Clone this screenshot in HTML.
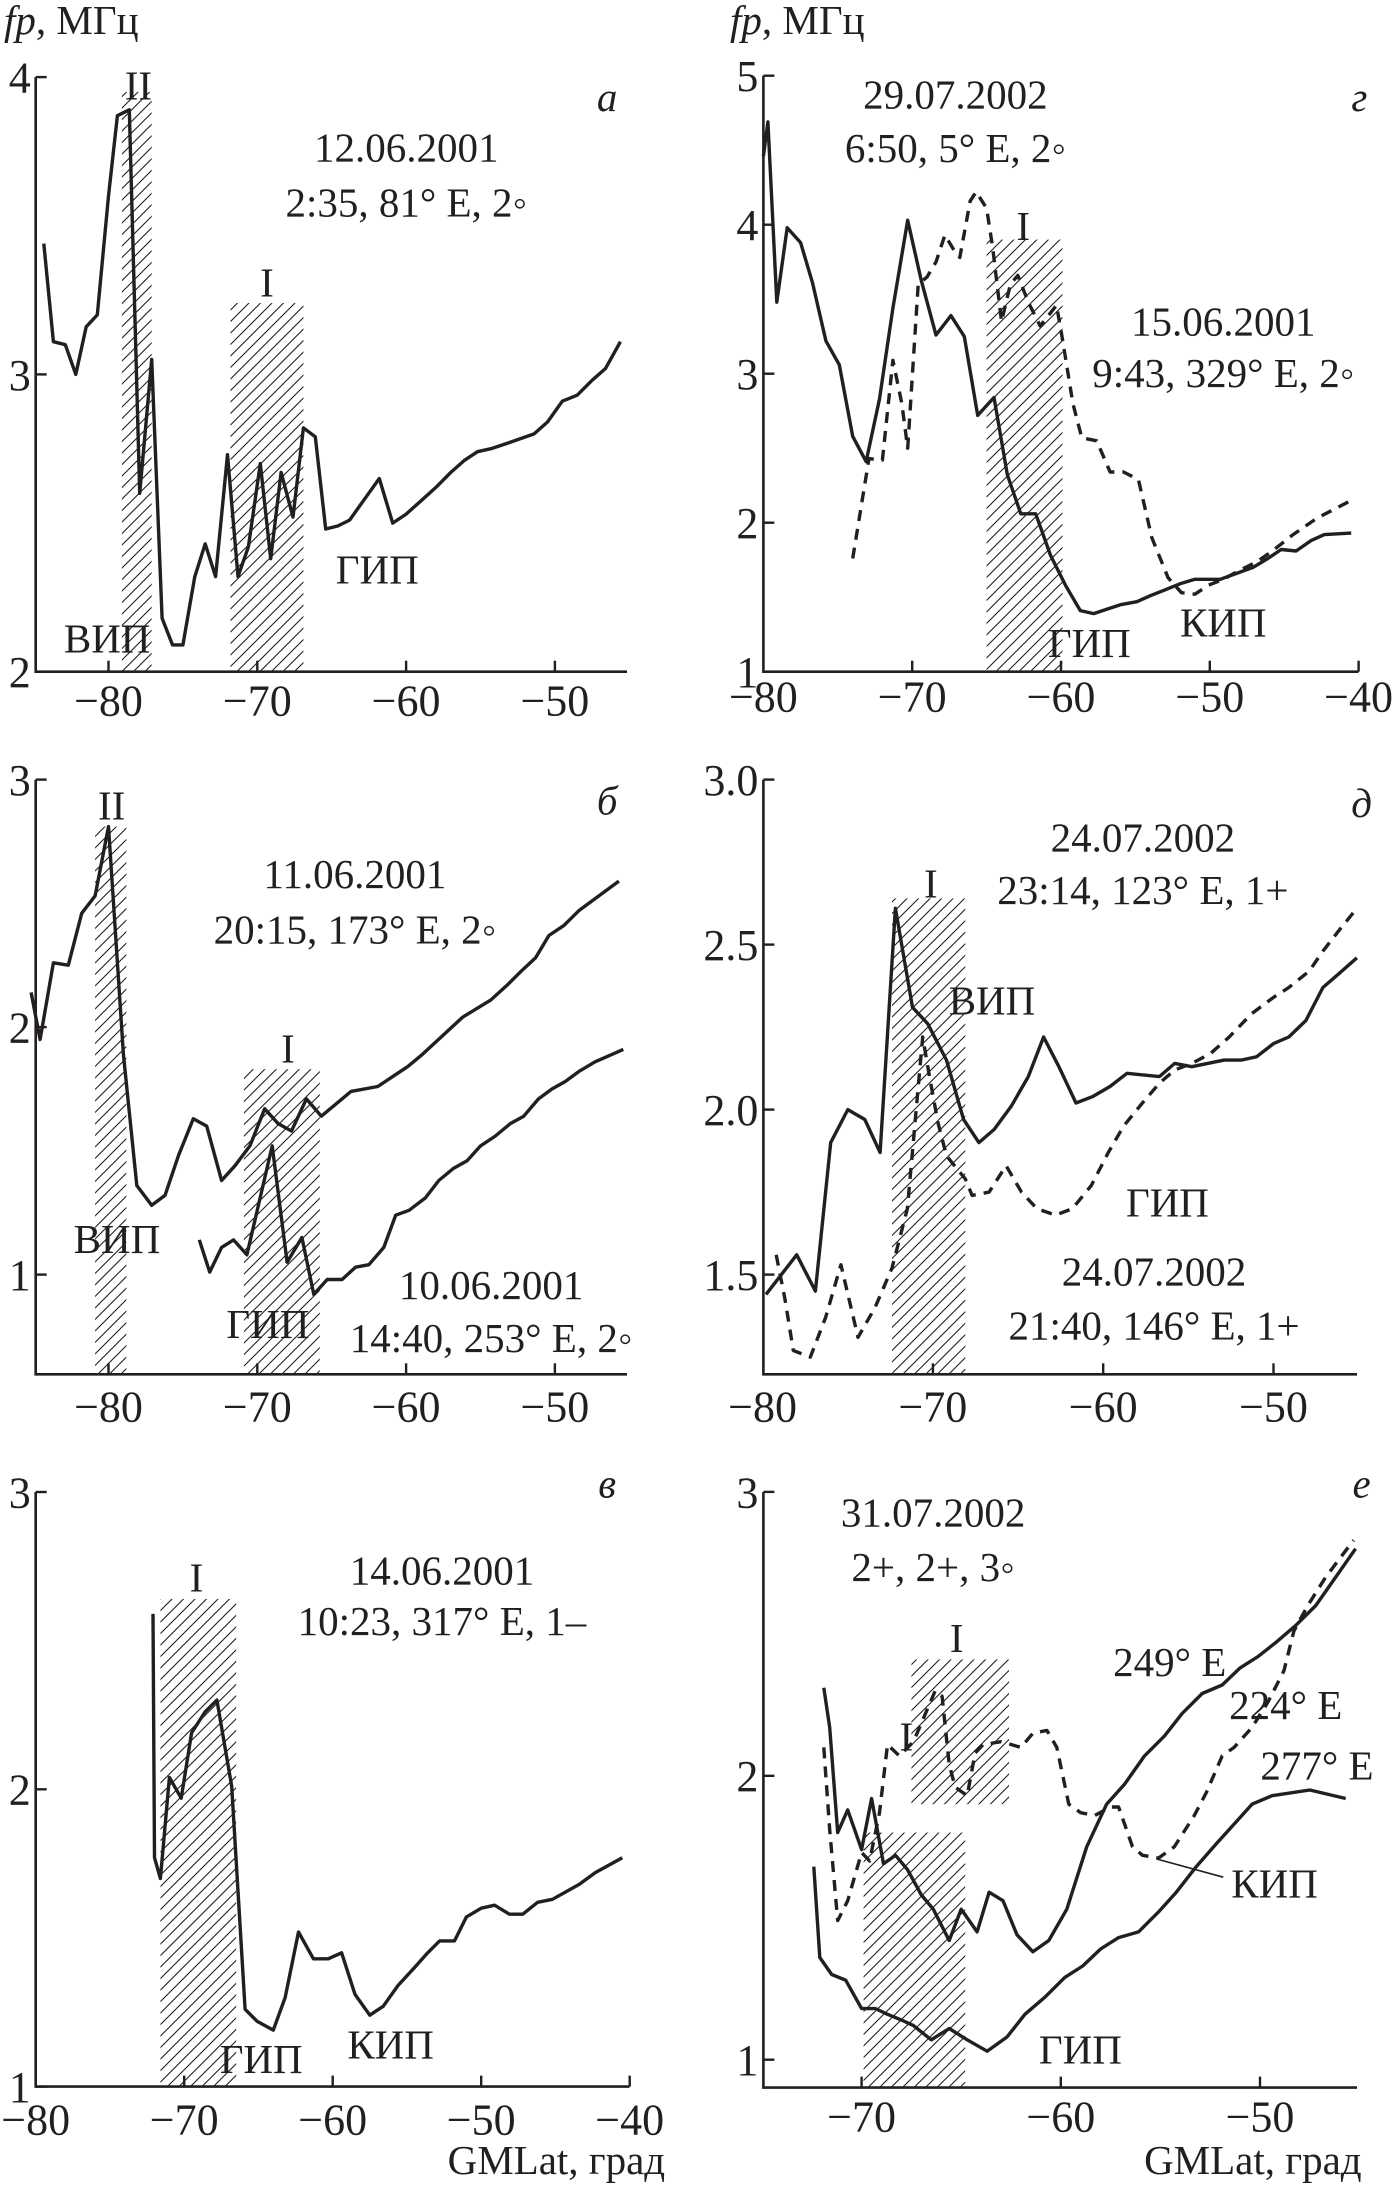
<!DOCTYPE html>
<html><head><meta charset="utf-8">
<style>
html,body{margin:0;padding:0;background:#fff;}
svg{display:block;}
text{font-family:"Liberation Serif","DejaVu Serif",serif;font-size:41px;fill:#231f20;}
.it{font-style:italic;}
.tick{font-size:44px;}
</style></head>
<body>
<svg id="fig" width="1392" height="2195" viewBox="0 0 1392 2195" xmlns="http://www.w3.org/2000/svg">
<defs>
<pattern id="hatch" patternUnits="userSpaceOnUse" width="11.5" height="11.5">
<path d="M0,11.5 L11.5,0 M-3,3 L3,-3 M8.5,14.5 L14.5,8.5" stroke="#231f20" stroke-width="1.1"/>
</pattern>
</defs>
<g id="marks"></g>
<g id="labels">
<text x="4" y="34"><tspan class="it">fp</tspan>, МГц</text>
<text x="730" y="34"><tspan class="it">fp</tspan>, МГц</text>
<!-- panel a -->
<text data-p="a" data-zx="310" data-zy="185">II</text>
<text data-p="a" data-zx="598" data-zy="615">I</text>
<text data-p="a" data-zx="1360" data-zy="210" class="it">а</text>
<text data-p="a" data-zx="910" data-zy="320">12.06.2001</text>
<text data-p="a" data-zx="910" data-zy="440">2:35, 81° E, 2◦</text>
<text data-p="a" data-zx="240" data-zy="1390">ВИП</text>
<text data-p="a" data-zx="845" data-zy="1240">ГИП</text>
<!-- panel b -->
<text data-p="b" data-zx="250" data-zy="185">II</text>
<text data-p="b" data-zx="1360" data-zy="175" class="it">б</text>
<text data-p="b" data-zx="795" data-zy="335">11.06.2001</text>
<text data-p="b" data-zx="795" data-zy="455">20:15, 173° E, 2◦</text>
<text data-p="b" data-zx="645" data-zy="715">I</text>
<text data-p="b" data-zx="262" data-zy="1130">ВИП</text>
<text data-p="b" data-zx="600" data-zy="1315">ГИП</text>
<text data-p="b" data-zx="1100" data-zy="1230">10.06.2001</text>
<text data-p="b" data-zx="1100" data-zy="1345">14:40, 253° E, 2◦</text>
<!-- panel v -->
<text data-p="v" data-zx="1360" data-zy="90" class="it">в</text>
<text data-p="v" data-zx="440" data-zy="285">I</text>
<text data-p="v" data-zx="990" data-zy="270">14.06.2001</text>
<text data-p="v" data-zx="990" data-zy="375">10:23, 317° E, 1–</text>
<text data-p="v" data-zx="585" data-zy="1285">ГИП</text>
<text data-p="v" data-zx="875" data-zy="1255">КИП</text>
<text data-p="v" data-zx="1490" data-zy="1495" data-anchor="end">GMLat, град</text>
<!-- panel g -->
<text data-p="g" data-zx="1495" data-zy="210" class="it">г</text>
<text data-p="g" data-zx="590" data-zy="205">29.07.2002</text>
<text data-p="g" data-zx="590" data-zy="322">6:50, 5° E, 2◦</text>
<text data-p="g" data-zx="742" data-zy="492">I</text>
<text data-p="g" data-zx="1190" data-zy="700">15.06.2001</text>
<text data-p="g" data-zx="1190" data-zy="812">9:43, 329° E, 2◦</text>
<text data-p="g" data-zx="890" data-zy="1400">ГИП</text>
<text data-p="g" data-zx="1190" data-zy="1355">КИП</text>
<!-- panel d -->
<text data-p="d" data-zx="1500" data-zy="180" class="it">д</text>
<text data-p="d" data-zx="1010" data-zy="255">24.07.2002</text>
<text data-p="d" data-zx="1010" data-zy="370">23:14, 123° E, 1+</text>
<text data-p="d" data-zx="535" data-zy="355">I</text>
<text data-p="d" data-zx="672" data-zy="610">ВИП</text>
<text data-p="d" data-zx="1065" data-zy="1050">ГИП</text>
<text data-p="d" data-zx="1035" data-zy="1200">24.07.2002</text>
<text data-p="d" data-zx="1035" data-zy="1318">21:40, 146° E, 1+</text>
<!-- panel e -->
<text data-p="e" data-zx="1500" data-zy="90" class="it">е</text>
<text data-p="e" data-zx="540" data-zy="150">31.07.2002</text>
<text data-p="e" data-zx="540" data-zy="263">2+, 2+, 3◦</text>
<text data-p="e" data-zx="593" data-zy="410">I</text>
<text data-p="e" data-zx="480" data-zy="615">I</text>
<text data-p="e" data-zx="1070" data-zy="460">249° E</text>
<text data-p="e" data-zx="1330" data-zy="550">224° E</text>
<text data-p="e" data-zx="1400" data-zy="675">277° E</text>
<text data-p="e" data-zx="1305" data-zy="920">КИП</text>
<text data-p="e" data-zx="870" data-zy="1265">ГИП</text>
<text data-p="e" data-zx="1500" data-zy="1495" data-anchor="end">GMLat, град</text>
</g>
</svg>
<script>
// ---- data (GMLat, fp MHz) ----
const aLat=[-84.35,-83.7,-82.9,-82.2,-81.5,-80.75,-80,-79.4,-78.6,-77.9,-77.1,-76.4,-75.7,-75.0,-74.2,-73.5,-72.8,-72.0,-71.3,-70.6,-69.8,-69.1,-68.4,-67.6,-66.9,-66.1,-65.4,-64.6,-63.8,-62.8,-61.8,-60.9,-60.0,-59.1,-58.0,-57.0,-56.1,-55.2,-54.3,-53.1,-51.4,-50.5,-49.5,-48.5,-47.5,-46.6,-45.6];
const aFp=[3.44,3.11,3.10,3.0,3.16,3.2,3.6,3.87,3.89,2.60,3.05,2.18,2.09,2.09,2.32,2.43,2.32,2.73,2.32,2.42,2.70,2.38,2.67,2.52,2.82,2.79,2.48,2.49,2.51,2.58,2.65,2.50,2.53,2.57,2.62,2.67,2.71,2.74,2.75,2.77,2.80,2.84,2.91,2.93,2.98,3.02,3.11];
const bULat=[-85.2,-84.6,-83.7,-82.7,-81.8,-80.9,-80,-79.0,-78.1,-77.1,-76.2,-75.3,-74.3,-73.4,-72.4,-71.5,-70.5,-69.5,-68.6,-67.7,-66.7,-65.7,-64.7,-63.7,-61.9,-60.9,-59.9,-58.9,-58.0,-56.2,-54.3,-53.2,-52.2,-51.3,-50.4,-49.4,-48.4,-47.5,-45.7];
const bUFp=[2.14,1.95,2.26,2.25,2.46,2.53,2.81,1.89,1.36,1.28,1.32,1.48,1.63,1.60,1.38,1.44,1.52,1.67,1.61,1.58,1.71,1.64,1.69,1.74,1.76,1.80,1.84,1.89,1.94,2.04,2.11,2.17,2.23,2.28,2.37,2.41,2.47,2.51,2.59];
const bLLat=[-73.9,-73.2,-72.4,-71.6,-70.7,-69.0,-68.0,-67.0,-66.2,-65.3,-64.3,-63.4,-62.5,-61.5,-60.7,-59.8,-58.7,-57.8,-56.8,-55.9,-55.0,-54.0,-53.0,-52.1,-51.1,-50.2,-49.3,-48.4,-47.3,-45.4];
const bLFp=[1.14,1.01,1.11,1.14,1.08,1.52,1.05,1.15,0.92,0.98,0.98,1.03,1.04,1.11,1.24,1.26,1.31,1.38,1.43,1.46,1.52,1.56,1.61,1.64,1.71,1.75,1.78,1.82,1.86,1.91];
const vLat=[-72.1,-72.0,-71.6,-71.0,-70.2,-69.5,-68.6,-67.8,-66.8,-65.9,-65.1,-64.0,-63.2,-62.3,-61.3,-60.3,-59.4,-58.5,-57.5,-56.6,-55.6,-54.5,-53.6,-52.8,-51.8,-51.0,-50.0,-49.1,-48.1,-47.2,-46.2,-45.2,-43.4,-42.3,-40.5];
const vFp=[2.59,1.77,1.70,2.04,1.97,2.19,2.26,2.30,2.01,1.26,1.22,1.19,1.30,1.52,1.43,1.43,1.45,1.31,1.24,1.27,1.34,1.40,1.45,1.49,1.49,1.57,1.60,1.61,1.58,1.58,1.62,1.63,1.68,1.72,1.77];
const gSLat=[-80,-79.7,-79.1,-78.4,-77.5,-76.7,-75.8,-74.9,-74.0,-73.1,-72.2,-71.3,-70.3,-69.4,-68.4,-67.4,-66.5,-65.6,-64.5,-63.6,-62.7,-61.7,-60.7,-59.7,-58.7,-57.8,-56.9,-56.0,-54.9,-54.0,-53.0,-52.0,-51.0,-49.3,-48.2,-47.1,-46.1,-45.2,-44.2,-43.2,-42.3,-40.5];
const gSFp=[4.46,4.69,3.48,3.98,3.88,3.61,3.22,3.06,2.58,2.41,2.83,3.44,4.03,3.63,3.26,3.39,3.25,2.72,2.84,2.32,2.06,2.06,1.78,1.58,1.41,1.39,1.42,1.45,1.47,1.51,1.55,1.59,1.62,1.62,1.66,1.70,1.76,1.82,1.81,1.88,1.92,1.93];
const gDLat=[-74.0,-72.9,-72.0,-71.3,-70.7,-70.3,-69.6,-69.0,-68.4,-67.8,-67.2,-66.8,-66.1,-65.7,-65.0,-64.6,-64.2,-64.0,-63.4,-62.9,-62.2,-61.4,-60.3,-59.9,-59.2,-58.6,-57.6,-56.7,-55.8,-54.8,-53.9,-52.8,-51.9,-51.0,-50.1,-49.1,-48.0,-46.8,-45.8,-44.4,-42.8,-40.5];
const gDFp=[1.76,2.43,2.42,3.09,2.80,2.50,3.60,3.65,3.75,3.93,3.83,3.78,4.16,4.22,4.11,3.85,3.52,3.35,3.60,3.66,3.48,3.32,3.46,3.23,2.80,2.57,2.55,2.34,2.34,2.29,1.90,1.63,1.53,1.52,1.58,1.62,1.68,1.74,1.81,1.92,2.03,2.15];
const dSLat=[-79.8,-78.0,-76.9,-76.0,-75.0,-74.0,-73.1,-72.2,-71.2,-70.3,-69.2,-68.2,-67.3,-66.4,-65.4,-64.4,-63.5,-62.6,-61.6,-60.6,-59.6,-58.6,-56.7,-55.8,-54.8,-52.9,-51.9,-51.0,-50.0,-49.1,-48.1,-47.1,-46.2,-45.1];
const dSFp=[1.44,1.56,1.45,1.90,2.00,1.97,1.87,2.61,2.31,2.26,2.15,1.97,1.90,1.94,2.01,2.10,2.22,2.13,2.02,2.04,2.07,2.11,2.10,2.14,2.13,2.15,2.15,2.16,2.20,2.22,2.27,2.37,2.41,2.46];
const dDLat=[-79.2,-78.7,-78.2,-77.2,-76.3,-75.4,-74.4,-73.4,-72.4,-71.5,-71.0,-70.6,-70.2,-69.7,-69.2,-68.1,-67.7,-66.7,-65.7,-64.8,-63.9,-62.8,-61.8,-60.7,-59.7,-58.8,-57.7,-56.7,-55.8,-54.8,-53.7,-52.6,-51.3,-50.0,-49.1,-47.9,-47.1,-46.2,-45.1];
const dDFp=[1.56,1.43,1.27,1.25,1.37,1.53,1.31,1.40,1.52,1.70,1.99,2.22,2.10,1.96,1.86,1.79,1.74,1.75,1.83,1.75,1.70,1.68,1.70,1.77,1.87,1.95,2.02,2.08,2.12,2.14,2.17,2.22,2.29,2.34,2.37,2.42,2.48,2.54,2.61];
const e249Lat=[-71.9,-71.6,-71.2,-70.7,-70.0,-69.5,-68.9,-68.3,-67.7,-67.0,-66.4,-65.6,-65.0,-64.2,-63.6,-62.9,-62.2,-61.4,-60.6,-59.7,-58.7,-57.7,-56.8,-55.8,-54.8,-53.9,-52.9,-51.9,-51.0,-50.1,-49.2,-48.2,-47.2,-46.2,-45.2];
const e249Fp=[2.31,2.17,1.80,1.88,1.74,1.92,1.69,1.72,1.67,1.58,1.53,1.42,1.53,1.45,1.59,1.56,1.44,1.38,1.42,1.53,1.75,1.90,1.97,2.07,2.14,2.22,2.29,2.32,2.38,2.42,2.47,2.53,2.60,2.70,2.80];
const e224Lat=[-71.9,-71.6,-71.2,-70.7,-70.0,-69.6,-69.1,-68.7,-68.1,-67.4,-66.3,-65.96,-65.6,-65.3,-64.7,-64.3,-63.9,-63.0,-62.0,-61.4,-60.7,-60.2,-59.6,-59.0,-58.3,-57.5,-57.1,-56.4,-55.9,-55.1,-54.3,-53.3,-52.7,-51.9,-51.3,-50.4,-49.6,-48.8,-48.3,-47.6,-46.7,-45.3];
const e224Fp=[2.10,1.81,1.49,1.56,1.73,1.70,1.87,2.11,2.07,2.12,2.30,2.28,2.04,1.96,1.93,2.08,2.11,2.12,2.10,2.15,2.16,2.10,1.90,1.87,1.86,1.89,1.89,1.75,1.72,1.71,1.75,1.86,1.94,2.07,2.10,2.17,2.26,2.37,2.51,2.60,2.70,2.83];
const e277Lat=[-72.4,-72.1,-71.5,-70.8,-70.0,-69.3,-68.7,-68.0,-67.4,-66.5,-65.6,-64.7,-63.7,-62.7,-61.8,-60.8,-59.8,-58.9,-58.0,-57.1,-56.1,-55.1,-54.2,-53.2,-52.2,-51.3,-50.4,-49.4,-47.5,-45.7];
const e277Fp=[1.68,1.36,1.30,1.28,1.18,1.18,1.16,1.14,1.12,1.07,1.11,1.07,1.03,1.08,1.16,1.22,1.29,1.33,1.39,1.43,1.45,1.52,1.59,1.68,1.76,1.83,1.90,1.93,1.95,1.92];
// hatched regions: [latMin, latMax, fpMin, fpMax]
const aBands=[[-79.1,-77.1,2,3.95],[-71.8,-66.9,2,3.24]];
const bBands=[[-80.9,-78.8,0.6,2.81],[-70.9,-65.8,0.6,1.83]];
const vBands=[[-71.6,-66.5,1,2.64]];
const gBands=[[-65.0,-59.9,1,3.90]];
const dBands=[[-72.4,-68.1,1.2,2.64]];
const eBands=[[-67.5,-62.6,1.90,2.41],[-69.9,-64.8,0.9,1.80]];
// tick labels
const xTicksA=[-80,-70,-60,-50];
const xTicksV=[-80,-70,-60,-50,-40];
const xTicksD=[-80,-70,-60,-50];
const xTicksE=[-70,-60,-50];
const yTicksA=[2,3,4];
const yTicksB=[1,2,3];
const yTicksG=[1,2,3,4,5];
const yTicksD=[1.5,2.0,2.5,3.0];

// ---- panel geometry (pixels) ----
const P={
 a:{ox:0,oy:0,sy:2.178,x0:108.5,xv0:-80,kx:14.88,y0:671.7,yv0:2,ky:297.3,left:35.7,right:627,bottom:671.7,top:77.1,xt:xTicksA,yt:yTicksA,xly:700,dec:0},
 b:{ox:0,oy:720,sy:2.178,x0:108.5,xv0:-80,kx:14.88,y0:1274.6,yv0:1,ky:247.5,left:35.7,right:627,bottom:1374.3,top:779.7,xt:xTicksA,yt:yTicksB,xly:1406,dec:0},
 v:{ox:0,oy:1440,sy:2.077,x0:35.7,xv0:-80,kx:14.85,y0:2086.6,yv0:1,ky:297.3,left:35.7,right:629.5,bottom:2086.6,top:1492,xt:xTicksV,yt:yTicksB,xly:2119,dec:0},
 g:{ox:692,oy:0,sy:2.178,x0:763.4,xv0:-80,kx:14.88,y0:671.7,yv0:1,ky:149,left:763.4,right:1358.5,bottom:671.7,top:75.8,xt:xTicksV,yt:yTicksG,xly:696,dec:0},
 d:{ox:692,oy:720,sy:2.178,x0:762.6,xv0:-80,kx:17.03,y0:1274.6,yv0:1.5,ky:330,left:763.4,right:1357,bottom:1374.3,top:779.7,xt:xTicksD,yt:yTicksD,xly:1406,dec:1},
 e:{ox:692,oy:1440,sy:2.077,x0:861.6,xv0:-70,kx:19.92,y0:2059.7,yv0:1,ky:283.9,left:763.4,right:1357,bottom:2087.6,top:1492,xt:xTicksE,yt:yTicksB,xly:2116,dec:0}
};
const NS='http://www.w3.org/2000/svg';
const marks=document.getElementById('marks');
function X(p,v){return p.x0+(v-p.xv0)*p.kx;}
function Y(p,v){return p.y0-(v-p.yv0)*p.ky;}
function mk(tag,attrs,parent){const e=document.createElementNS(NS,tag);for(const k in attrs)e.setAttribute(k,attrs[k]);(parent||marks).appendChild(e);return e;}
function bands(p,arr,name){
 arr.forEach(b=>{
  const r=mk('rect',{x:X(p,b[0]),y:Y(p,b[3]),width:X(p,b[1])-X(p,b[0]),height:Y(p,b[2])-Y(p,b[3]),fill:'url(#hatch)'});
  
  
 });
}
function axes(p,name){
 const g=mk('g',{});
 
 
 mk('path',{d:`M${p.left},${p.top} L${p.left},${p.bottom} L${p.right},${p.bottom}`,fill:'none',stroke:'#231f20','stroke-width':2.6},g);
 p.yt.forEach(v=>{
  const y=Y(p,v);
  mk('line',{x1:p.left,x2:p.left+11,y1:y,y2:y,stroke:'#231f20','stroke-width':2.4},g);
  const t=mk('text',{x:p.left-5,y:y,'text-anchor':'end',dy:'0.35em','class':'tick'},g);
  t.textContent=p.dec?v.toFixed(1):String(v);
  
  
 });
 p.xt.forEach(v=>{
  const x=X(p,v);
  if(Math.abs(x-p.left)>2) mk('line',{x1:x,x2:x,y1:p.bottom,y2:p.bottom-11,stroke:'#231f20','stroke-width':2.4},g);
  const t=mk('text',{x:x,y:p.xly,'text-anchor':'middle',dy:'0.35em','class':'tick'},g);
  t.textContent='\u2212'+Math.abs(v);
  
  
 });
}
function line(p,lat,fp,dashed,name){
 let d='';
 for(let i=0;i<lat.length;i++) d+=(i?'L':'M')+X(p,lat[i]).toFixed(1)+','+Y(p,fp[i]).toFixed(1);
 const a={d:d,fill:'none',stroke:'#231f20','stroke-width':3.4,'stroke-linejoin':'round'};
 if(dashed) a['stroke-dasharray']='11 8';
 const e=mk('path',a);
 
 
}
bands(P.a,aBands,'hatched-region');
bands(P.b,bBands,'hatched-region');
bands(P.v,vBands,'hatched-region');
bands(P.g,gBands,'hatched-region');
bands(P.d,dBands,'hatched-region');
bands(P.e,eBands,'hatched-region');
for(const k in P) axes(P[k],'panel-'+k);
line(P.a,aLat,aFp,false,'series-12-06-2001');
line(P.b,bULat,bUFp,false,'series-11-06-2001');
line(P.b,bLLat,bLFp,false,'series-10-06-2001');
line(P.v,vLat,vFp,false,'series-14-06-2001');
line(P.g,gSLat,gSFp,false,'series-29-07-2002');
line(P.g,gDLat,gDFp,true,'series-15-06-2001');
line(P.d,dSLat,dSFp,false,'series-24-07-2002-2314');
line(P.d,dDLat,dDFp,true,'series-24-07-2002-2140');
line(P.e,e249Lat,e249Fp,false,'series-249E');
line(P.e,e224Lat,e224Fp,true,'series-224E');
line(P.e,e277Lat,e277Fp,false,'series-277E');
(function(){const p=P.e;
 const l=mk('line',{x1:1040/2.24+p.ox,y1:870/p.sy+p.oy,x2:1190/2.24+p.ox,y2:908/p.sy+p.oy,stroke:'#231f20','stroke-width':1.6});
 
 
})();
document.querySelectorAll('#labels text[data-p]').forEach(t=>{
 const p=P[t.getAttribute('data-p')];
 t.setAttribute('x',(+t.getAttribute('data-zx'))/2.24+p.ox);
 t.setAttribute('y',(+t.getAttribute('data-zy'))/p.sy+p.oy);
 t.setAttribute('dy','0.35em');
 t.setAttribute('text-anchor',t.getAttribute('data-anchor')||'middle');
});
</script>
</body></html>
